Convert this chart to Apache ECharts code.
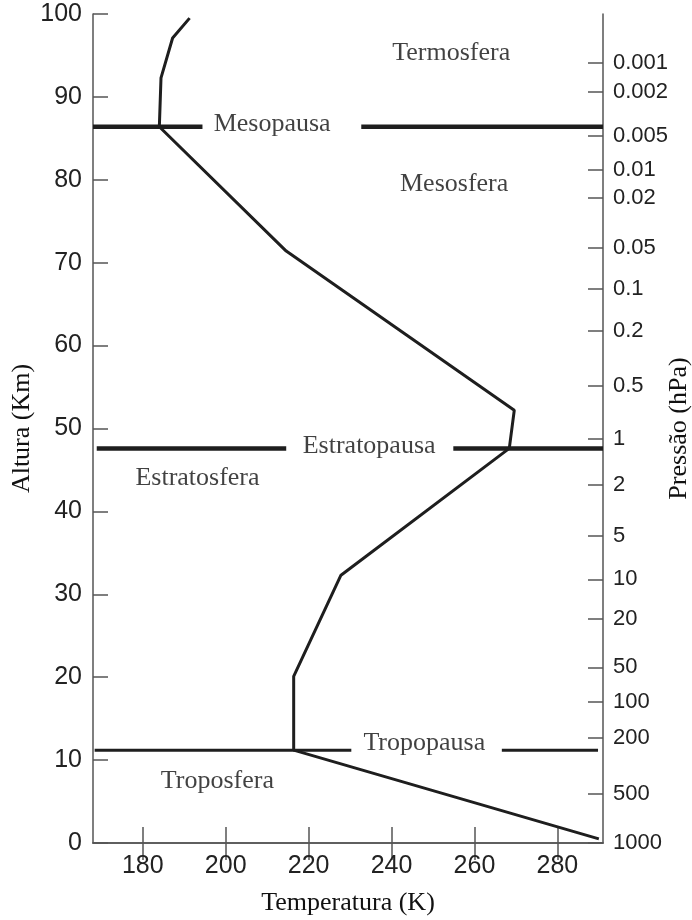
<!DOCTYPE html>
<html>
<head>
<meta charset="utf-8">
<script src="https://cdn.jsdelivr.net/npm/echarts@6/dist/echarts.min.js"></script>
<style>
  html, body { margin: 0; padding: 0; background: #fff; }
  #chart { width: 692px; height: 920px; }
</style>
</head>
<body>
<div id="chart"></div>
<script>
// Vertical temperature profile of the standard atmosphere
const temperature = [191.3, 187.2, 184.4, 184.0, 214.6, 269.6, 268.4, 227.8, 216.4, 216.4, 290.0];
const altitude    = [99.5, 97.1, 92.3, 86.4, 71.4, 52.2, 47.6, 32.3, 20.1, 11.2, 0.5];

// Temperature tick labels (K)
const temperatureTicks = [180, 200, 220, 240, 260, 280];
// Altitude tick labels (km)
const altitudeTicks = [0, 10, 20, 30, 40, 50, 60, 70, 80, 90, 100];

// Pressure scale (hPa) and the altitude each pressure corresponds to
const pressureLabels = ['0.001', '0.002', '0.005', '0.01', '0.02', '0.05', '0.1', '0.2', '0.5',
                        '1', '2', '5', '10', '20', '50', '100', '200', '500', '1000'];
const pressureAltitudes = [94.1, 90.6, 85.3, 81.2, 77.8, 71.8, 66.8, 61.8, 55.1,
                           48.8, 43.2, 37.1, 31.8, 27.0, 21.2, 17.0, 12.7, 5.9, 0];

// Pause levels: altitude and the temperature span of each drawn segment (gap left for the name)
const pauseNames = ['Mesopausa', 'Estratopausa', 'Tropopausa'];
const pauseAltitudes = [86.4, 47.6, 11.2];
const pauseSegments = [
  [[168, 194.4], [232.7, 291]],
  [[168.9, 214.6], [254.9, 291]],
  [[168.4, 230.3], [266.6, 289.8]]
];
const pauseLabelTemperature = [211.2, 234.6, 247.9];

// Layer names and where they are written (temperature, altitude)
const layerNames = ['Termosfera', 'Mesosfera', 'Estratosfera', 'Troposfera'];
const layerTemperature = [254.4, 255.1, 193.2, 198.0];
const layerAltitude = [95.3, 79.5, 44.0, 7.5];

const X_MIN = 168, X_MAX = 291;
const SERIF = '"Liberation Serif", "Times New Roman", serif';
const SANS = '"Liberation Sans", Arial, sans-serif';
const INK = '#1e1e1e';
const FRAME = '#555';

const pauseWidths = [4.5, 4.5, 3];

const series = [];
series.push({
  type: 'line',
  data: temperature.map((t, i) => [t, altitude[i]]),
  symbol: 'none',
  lineStyle: { color: INK, width: 3 },
  z: 5
});
pauseSegments.forEach((segs, k) => {
  segs.forEach(seg => {
    series.push({
      type: 'line',
      data: seg.map(t => [t, pauseAltitudes[k]]),
      symbol: 'none',
      lineStyle: { color: INK, width: pauseWidths[k] },
      z: 4
    });
  });
});
const textLabels = layerNames.map((n, i) => ({ name: n, value: [layerTemperature[i], layerAltitude[i]] }))
  .concat(pauseNames.map((n, i) => ({
    name: n,
    value: [pauseLabelTemperature[i], pauseAltitudes[i] + (i === 2 ? 0.8 : 0.3)]
  })));
series.push({
  type: 'scatter',
  data: textLabels,
  symbolSize: 1,
  itemStyle: { color: 'rgba(0,0,0,0)' },
  label: {
    show: true,
    position: 'inside',
    formatter: p => p.name,
    fontFamily: SERIF,
    fontSize: 26,
    color: '#111'
  },
  z: 6
});

const pressureMap = {};
pressureAltitudes.forEach((a, i) => { pressureMap[a.toFixed(1)] = pressureLabels[i]; });

const chart = echarts.init(document.getElementById('chart'), null, { renderer: 'canvas' });
chart.setOption({
  animation: false,
  backgroundColor: '#fff',
  grid: { left: 93, right: 89, top: 14, bottom: 77, outerBoundsMode: 'none', containLabel: false },
  xAxis: [
    {
      type: 'value', position: 'bottom', min: X_MIN, max: X_MAX,
      name: 'Temperatura (K)', nameLocation: 'middle', nameGap: 47, nameMoveOverlap: false,
      nameTextStyle: { fontFamily: SERIF, fontSize: 26, color: '#111' },
      axisLine: { show: true, lineStyle: { color: FRAME, width: 1.5 } },
      axisTick: { show: true, inside: true, length: 16, customValues: temperatureTicks,
                  lineStyle: { color: FRAME, width: 1.5 } },
      axisLabel: { customValues: temperatureTicks, fontFamily: SANS, fontSize: 25, color: '#222', margin: 11 },
      splitLine: { show: false }
    },
    {
      type: 'value', position: 'top', min: X_MIN, max: X_MAX,
      axisLine: { show: true, lineStyle: { color: FRAME, width: 1.5 } },
      axisTick: { show: true, inside: true, length: 17, customValues: temperatureTicks,
                  lineStyle: { color: FRAME, width: 1.5 } },
      axisLabel: { show: false },
      splitLine: { show: false }
    }
  ],
  yAxis: [
    {
      type: 'value', position: 'left', min: 0, max: 100, interval: 10,
      name: 'Altura (Km)', nameLocation: 'middle', nameGap: 58, nameRotate: 90, nameMoveOverlap: false,
      nameTextStyle: { fontFamily: SERIF, fontSize: 26, color: '#111' },
      axisLine: { show: true, lineStyle: { color: FRAME, width: 1.5 } },
      axisTick: { show: true, inside: true, length: 15, lineStyle: { color: FRAME, width: 1.5 } },
      axisLabel: { fontFamily: SANS, fontSize: 25, color: '#222', margin: 11 },
      splitLine: { show: false }
    },
    {
      type: 'value', position: 'right', min: 0, max: 100,
      name: 'Pressão (hPa)', nameLocation: 'middle', nameGap: 63, nameRotate: 90, nameMoveOverlap: false,
      nameTextStyle: { fontFamily: SERIF, fontSize: 26, color: '#111' },
      axisLine: { show: true, lineStyle: { color: FRAME, width: 1.5 } },
      axisTick: { show: true, inside: true, length: 15, customValues: pressureAltitudes,
                  lineStyle: { color: FRAME, width: 1.5 } },
      axisLabel: {
        customValues: pressureAltitudes, fontFamily: SANS, fontSize: 22, color: '#222', margin: 10,
        formatter: v => pressureMap[Number(v).toFixed(1)] || ''
      },
      splitLine: { show: false }
    }
  ],
  series: series
});
</script>
</body>
</html>
